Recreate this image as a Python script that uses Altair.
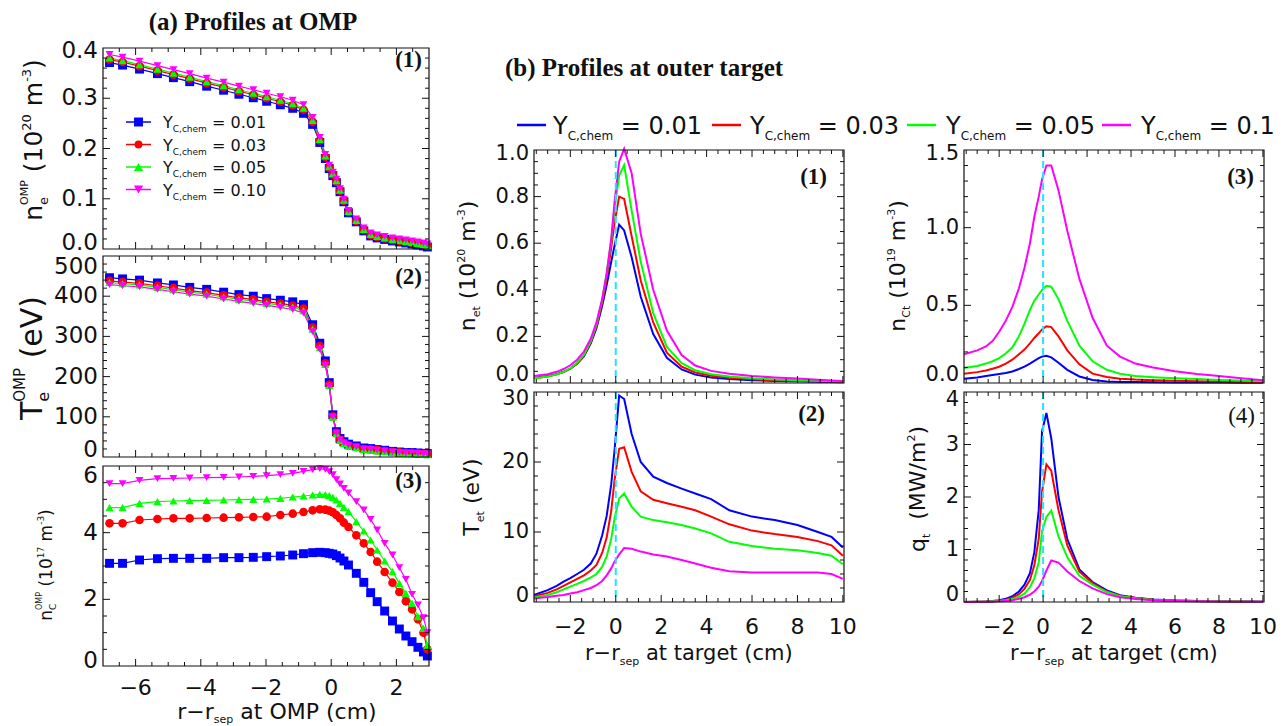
import altair as alt
import pandas as pd

SANS = "DejaVu Sans"
SERIF = "Liberation Serif"
INK = "#111111"
CYAN = "#22e4ff"

SERIES = ["0.01", "0.03", "0.05", "0.10"]
COLORS = ["#0000ff", "#ff0000", "#00ff00", "#ff00ff"]
SHAPES = ["square", "circle", "triangle-up", "triangle-down"]
SIZES = [80, 62, 85, 85]
LEGEND_A = ["= 0.01", "= 0.03", "= 0.05", "= 0.10"]
LEGEND_B = ["= 0.01", "= 0.03", "= 0.05", "= 0.1"]

# ---------------- (a) outboard midplane profiles ----------------
r_omp = [-6.8, -6.4, -5.88, -5.33, -4.84, -4.34, -3.82, -3.30, -2.83, -2.39,
         -1.98, -1.56, -1.18, -0.85, -0.57, -0.35, -0.18, -0.06, 0.05, 0.16,
         0.27, 0.39, 0.53, 0.77, 1.0, 1.21, 1.41, 1.64, 1.88, 2.09,
         2.29, 2.48, 2.66, 2.83, 2.95]

ne_omp_001 = [0.371, 0.366, 0.358, 0.349, 0.341, 0.333, 0.324, 0.316, 0.308, 0.301,
              0.294, 0.287, 0.280, 0.270, 0.248, 0.212, 0.180, 0.160, 0.146, 0.132,
              0.114, 0.094, 0.072, 0.054, 0.036, 0.026, 0.022, 0.019, 0.016, 0.014,
              0.012, 0.010, 0.008, 0.006, 0.004]
ne_omp_003 = [0.377, 0.372, 0.364, 0.355, 0.347, 0.339, 0.330, 0.322, 0.314, 0.307,
              0.300, 0.293, 0.286, 0.277, 0.253, 0.216, 0.183, 0.162, 0.148, 0.134,
              0.116, 0.096, 0.074, 0.056, 0.038, 0.028, 0.024, 0.021, 0.018, 0.016,
              0.014, 0.012, 0.010, 0.008, 0.006]
ne_omp_005 = [0.380, 0.375, 0.367, 0.358, 0.350, 0.342, 0.333, 0.325, 0.317, 0.310,
              0.303, 0.296, 0.289, 0.280, 0.256, 0.218, 0.185, 0.164, 0.150, 0.136,
              0.117, 0.097, 0.075, 0.057, 0.039, 0.029, 0.025, 0.022, 0.019, 0.017,
              0.015, 0.013, 0.011, 0.009, 0.007]
ne_omp_010 = [0.387, 0.382, 0.374, 0.365, 0.357, 0.349, 0.340, 0.332, 0.324, 0.317,
              0.310, 0.303, 0.296, 0.287, 0.262, 0.222, 0.188, 0.167, 0.153, 0.139,
              0.120, 0.099, 0.077, 0.060, 0.042, 0.032, 0.028, 0.025, 0.022, 0.020,
              0.018, 0.016, 0.014, 0.012, 0.010]

te_omp_001 = [446, 443, 440, 433, 428, 422, 417, 410, 404, 400,
              394, 390, 386, 379, 329, 283, 239, 185, 105, 63,
              46, 38, 32, 27.5, 22.5, 21, 18.5, 16.7, 14, 12.5,
              11, 11, 10, 9, 8.5]
te_omp_003 = [438, 435, 432, 426, 420, 414, 409, 402, 396, 392,
              386, 382, 377, 369, 322, 276, 233, 180, 101, 60,
              43, 35, 29, 25, 20, 19, 17, 15, 13, 11.5,
              10, 10, 9, 8, 7.5]
te_omp_005 = [434, 431, 428, 422, 416, 410, 405, 398, 392, 388,
              382, 378, 373, 364, 318, 272, 230, 178, 99, 58,
              41, 33, 27, 23, 18, 17, 15, 13, 11, 10,
              9, 8.5, 7.5, 6.5, 6]
te_omp_010 = [429, 426, 423, 417, 411, 405, 400, 393, 387, 382,
              377, 372, 367, 358, 312, 268, 228, 176, 100, 60,
              43, 35, 29, 25, 20, 19, 17, 15, 13, 11.5,
              10, 9.5, 9, 8, 7.5]

nc_omp_001 = [3.08, 3.08, 3.18, 3.22, 3.23, 3.23, 3.23, 3.25, 3.25, 3.26,
              3.28, 3.30, 3.33, 3.37, 3.40, 3.41, 3.40, 3.38, 3.36, 3.31,
              3.24, 3.15, 3.03, 2.78, 2.51, 2.20, 1.93, 1.65, 1.35, 1.11,
              0.90, 0.73, 0.56, 0.42, 0.30]
nc_omp_003 = [4.28, 4.28, 4.38, 4.41, 4.43, 4.43, 4.44, 4.45, 4.46, 4.47,
              4.48, 4.53, 4.57, 4.62, 4.67, 4.70, 4.69, 4.66, 4.61, 4.53,
              4.43, 4.30, 4.17, 3.92, 3.68, 3.42, 3.13, 2.82, 2.50, 2.22,
              1.94, 1.70, 1.40, 1.00, 0.50]
nc_omp_005 = [4.75, 4.75, 4.88, 4.93, 4.95, 4.96, 4.97, 4.98, 4.99, 5.00,
              5.01, 5.03, 5.07, 5.10, 5.13, 5.15, 5.14, 5.11, 5.06, 4.98,
              4.88, 4.76, 4.63, 4.33, 4.05, 3.78, 3.48, 3.15, 2.83, 2.48,
              2.18, 1.88, 1.48, 1.13, 0.62]
nc_omp_010 = [5.47, 5.47, 5.57, 5.62, 5.63, 5.64, 5.65, 5.66, 5.67, 5.69,
              5.71, 5.74, 5.78, 5.84, 5.89, 5.92, 5.90, 5.83, 5.74, 5.59,
              5.46, 5.33, 5.19, 4.93, 4.68, 4.40, 4.08, 3.68, 3.33, 2.95,
              2.60, 2.15, 1.83, 1.45, 1.00]

# ---------------- (b) outer target profiles ----------------
r_tgt = [-3.6, -3.0, -2.6, -2.3, -2.0, -1.7, -1.4, -1.1, -0.85, -0.6,
         -0.4, -0.2, -0.05, 0.15, 0.37, 0.7, 1.1, 1.65, 2.25, 2.9,
         3.5, 4.2, 5.0, 6.0, 7.0, 8.0, 8.9, 9.5, 10.0]

ne_tgt_001 = [0.022, 0.030, 0.038, 0.048, 0.062, 0.083, 0.115, 0.17, 0.235, 0.33,
              0.42, 0.52, 0.59, 0.68, 0.655, 0.54, 0.37, 0.21, 0.108, 0.058,
              0.036, 0.024, 0.017, 0.012, 0.009, 0.007, 0.005, 0.004, 0.003]
ne_tgt_003 = [0.020, 0.028, 0.037, 0.047, 0.062, 0.085, 0.118, 0.175, 0.245, 0.345,
              0.45, 0.58, 0.69, 0.80, 0.79, 0.63, 0.44, 0.26, 0.13, 0.07,
              0.045, 0.031, 0.022, 0.016, 0.012, 0.010, 0.008, 0.006, 0.005]
ne_tgt_005 = [0.020, 0.028, 0.037, 0.048, 0.063, 0.087, 0.121, 0.18, 0.25, 0.355,
              0.47, 0.61, 0.75, 0.89, 0.935, 0.74, 0.52, 0.30, 0.155, 0.085,
              0.055, 0.038, 0.028, 0.020, 0.015, 0.012, 0.010, 0.008, 0.007]
ne_tgt_010 = [0.030, 0.038, 0.048, 0.060, 0.076, 0.100, 0.135, 0.19, 0.26, 0.36,
              0.47, 0.62, 0.78, 0.95, 1.005, 0.90, 0.64, 0.40, 0.225, 0.12,
              0.075, 0.052, 0.040, 0.030, 0.024, 0.019, 0.014, 0.011, 0.009]

te_tgt_001 = [1.0, 1.7, 2.3, 2.9, 3.4, 4.0, 4.6, 5.5, 6.9, 9.5,
              12.3, 16.8, 21.8, 29.5, 29.0, 24.0, 20.0, 17.9, 17.0, 16.2,
              15.5, 14.7, 13.1, 12.2, 11.7, 11.0, 10.0, 9.3, 7.8]
te_tgt_003 = [0.8, 1.3, 1.8, 2.3, 2.8, 3.3, 3.8, 4.5, 5.3, 7.0,
              9.2, 13.0, 17.5, 21.9, 22.1, 18.6, 15.8, 14.6, 14.1, 13.6,
              13.1, 12.2, 11.1, 10.2, 9.7, 9.3, 8.7, 8.1, 6.6]
te_tgt_005 = [0.6, 1.0, 1.4, 1.8, 2.2, 2.6, 3.0, 3.5, 4.0, 5.0,
              6.5, 9.0, 12.0, 14.8, 15.5, 13.6, 12.2, 11.7, 11.4, 11.0,
              10.5, 9.8, 8.6, 8.0, 7.6, 7.4, 7.0, 6.6, 5.4]
te_tgt_010 = [0.5, 0.7, 0.9, 1.0, 1.2, 1.4, 1.7, 2.0, 2.4, 3.0,
              3.8, 4.8, 5.8, 6.8, 7.7, 7.6, 7.2, 6.8, 6.5, 6.0,
              5.5, 4.9, 4.4, 4.2, 4.2, 4.2, 4.2, 4.0, 3.3]

nc_tgt_001 = [0.028, 0.036, 0.045, 0.052, 0.058, 0.064, 0.074, 0.090, 0.105, 0.125,
              0.143, 0.160, 0.170, 0.175, 0.165, 0.130, 0.085, 0.042, 0.020, 0.010,
              0.007, 0.006, 0.005, 0.004, 0.003, 0.003, 0.002, 0.002, 0.002]
nc_tgt_003 = [0.060, 0.070, 0.080, 0.092, 0.105, 0.125, 0.150, 0.185, 0.215, 0.255,
              0.290, 0.320, 0.345, 0.365, 0.360, 0.300, 0.210, 0.120, 0.060, 0.038,
              0.028, 0.022, 0.018, 0.015, 0.012, 0.010, 0.008, 0.007, 0.006]
nc_tgt_005 = [0.097, 0.110, 0.125, 0.140, 0.160, 0.190, 0.230, 0.300, 0.380, 0.470,
              0.530, 0.570, 0.600, 0.625, 0.620, 0.540, 0.400, 0.240, 0.140, 0.085,
              0.060, 0.045, 0.037, 0.030, 0.025, 0.020, 0.016, 0.013, 0.011]
nc_tgt_010 = [0.185, 0.210, 0.235, 0.270, 0.330, 0.400, 0.490, 0.610, 0.740, 0.900,
              1.070, 1.200, 1.310, 1.400, 1.400, 1.240, 0.980, 0.670, 0.420, 0.240,
              0.170, 0.125, 0.100, 0.075, 0.058, 0.045, 0.032, 0.024, 0.018]

q_tgt_001 = [0.0, 0.005, 0.010, 0.020, 0.035, 0.06, 0.11, 0.20, 0.33, 0.55,
             0.95, 1.75, 3.25, 3.60, 3.12, 2.00, 1.20, 0.62, 0.38, 0.22,
             0.13, 0.08, 0.05, 0.03, 0.02, 0.015, 0.01, 0.008, 0.005]
q_tgt_003 = [0.0, 0.004, 0.008, 0.015, 0.025, 0.045, 0.08, 0.15, 0.25, 0.42,
             0.70, 1.20, 2.10, 2.62, 2.50, 1.75, 1.08, 0.58, 0.36, 0.20,
             0.12, 0.075, 0.045, 0.028, 0.018, 0.013, 0.009, 0.007, 0.005]
q_tgt_005 = [0.0, 0.003, 0.006, 0.012, 0.020, 0.035, 0.06, 0.10, 0.16, 0.28,
             0.45, 0.75, 1.35, 1.62, 1.74, 1.25, 0.85, 0.50, 0.33, 0.19,
             0.11, 0.07, 0.04, 0.025, 0.016, 0.012, 0.008, 0.006, 0.004]
q_tgt_010 = [0.0, 0.002, 0.004, 0.007, 0.012, 0.02, 0.035, 0.06, 0.09, 0.14,
             0.20, 0.29, 0.40, 0.60, 0.79, 0.75, 0.58, 0.40, 0.26, 0.15,
             0.09, 0.055, 0.035, 0.02, 0.013, 0.01, 0.007, 0.005, 0.004]

# ---------------- tick values ----------------
x_omp_major = [-6, -4, -2, 0, 2]
x_omp_minor = [v / 2 for v in range(-13, 6) if v % 4 != 0]
x_tgt_major = [-2, 0, 2, 4, 6, 8, 10]
x_tgt_minor = [v / 2 for v in range(-7, 20) if v % 4 != 0]

# panel boxes in pixels: left, right, top, bottom
P1 = (103, 429, 48, 249)
P2 = (103, 429, 256, 457)
P3 = (103, 429, 466, 666)
B1 = (534, 844, 150, 383)
B2 = (534, 844, 392, 602)
B3 = (964, 1264, 150, 383)
B4 = (964, 1264, 392, 602)

ONE = pd.DataFrame({"k": [0]})

# DejaVu Sans advance widths (em)
W = {" ": 0.318, "(": 0.390, ")": 0.390, ",": 0.318, "-": 0.361, ".": 0.318,
     "/": 0.337, "=": 0.838, "\u2212": 0.838, "C": 0.698, "M": 0.863, "O": 0.787,
     "P": 0.603, "T": 0.611, "V": 0.684, "W": 0.989, "Y": 0.611, "a": 0.613,
     "c": 0.550, "e": 0.615, "g": 0.635, "h": 0.634, "m": 0.974, "n": 0.634,
     "p": 0.635, "q": 0.635, "r": 0.411, "s": 0.521, "t": 0.392}
for d in "0123456789":
    W[d] = 0.636


def wid(t, size):
    return sum(W.get(c, 0.6) for c in t) * size


def rich(pieces, x, y, angle=0, anchor="middle"):
    """Text built from pieces (text, size, rise, advances)."""
    total = sum(wid(t, s) for t, s, r, a in pieces if a)
    pos = -total / 2 if anchor == "middle" else 0.0
    out = []
    for t, s, r, a in pieces:
        lead = len(t) - len(t.lstrip(" "))
        body = t.lstrip(" ")
        p = pos + lead * W[" "] * s
        if angle == 0:
            px, py = x + p, y - r
        else:
            px, py = x - r, y - p
        out.append(alt.Chart(ONE).mark_text(
            text=body, font=SANS, fontSize=s, angle=angle, align="left",
            baseline="alphabetic", color=INK).encode(x=alt.value(px), y=alt.value(py)))
        if a:
            pos += wid(t, s)
    return out


def table(x, columns):
    rows = []
    for name, col in zip(SERIES, columns):
        rows += [{"x": a, "y": b, "s": name} for a, b in zip(x, col)]
    return pd.DataFrame(rows)


COLOR = alt.Color("s:N", scale=alt.Scale(domain=SERIES, range=COLORS), legend=None)
SHAPE = alt.Shape("s:N", scale=alt.Scale(domain=SERIES, range=SHAPES), legend=None)
SIZE = alt.Size("s:O", scale=alt.Scale(domain=SERIES, range=SIZES), legend=None)


def panel(box, xdom, ydom, df, xmaj, xmin, ymaj, ymin, ylab, yfmt, ylab_x, ysize,
          ends=(-5, 5), xlab=None, xfmt="d", xlab_y=0, xsize=22, markers=False,
          lw=2.0, zero_line=False, tag=None, tag_bold=True):
    x0, x1, y0, y1 = box
    xs = alt.Scale(domain=xdom, range=[x0, x1], nice=False, zero=False)
    ys = alt.Scale(domain=ydom, range=[y1, y0], nice=False, zero=False)
    layers = [
        alt.Chart(df).mark_line(strokeWidth=lw).encode(
            x=alt.X("x:Q", scale=xs, axis=None),
            y=alt.Y("y:Q", scale=ys, axis=None), color=COLOR)
    ]
    if markers:
        layers.append(alt.Chart(df).mark_point(filled=True, opacity=1).encode(
            x=alt.X("x:Q", scale=xs, axis=None),
            y=alt.Y("y:Q", scale=ys, axis=None),
            color=COLOR, shape=SHAPE, size=SIZE))
    if zero_line:
        layers.append(alt.Chart(pd.DataFrame({"v": [0]})).mark_rule(
            color=CYAN, strokeWidth=2, strokeDash=[7, 4]).encode(
            x=alt.X("v:Q", scale=xs, axis=None), y=alt.value(y0), y2=alt.value(y1)))
    # inward ticks on all four sides
    for vals, n in ((xmaj, 7), (xmin, 4)):
        d = pd.DataFrame({"v": vals})
        ex = alt.X("v:Q", scale=xs, axis=None)
        layers.append(alt.Chart(d).mark_rule(color=INK, strokeWidth=1).encode(
            x=ex, y=alt.value(y1), y2=alt.value(y1 - n)))
        layers.append(alt.Chart(d).mark_rule(color=INK, strokeWidth=1).encode(
            x=ex, y=alt.value(y0), y2=alt.value(y0 + n)))
    for vals, n in ((ymaj, 7), (ymin, 4)):
        d = pd.DataFrame({"v": vals})
        ey = alt.Y("v:Q", scale=ys, axis=None)
        layers.append(alt.Chart(d).mark_rule(color=INK, strokeWidth=1).encode(
            y=ey, x=alt.value(x0), x2=alt.value(x0 + n)))
        layers.append(alt.Chart(d).mark_rule(color=INK, strokeWidth=1).encode(
            y=ey, x=alt.value(x1), x2=alt.value(x1 - n)))
    # y tick labels (end labels pulled inside the frame)
    for grp, dy in ((ylab[:1], ends[0]), (ylab[1:-1], 0), (ylab[-1:], ends[1])):
        layers.append(alt.Chart(pd.DataFrame({"v": grp})).mark_text(
            font=SANS, fontSize=ysize, align="right", baseline="middle",
            color=INK, dy=dy).encode(
            y=alt.Y("v:Q", scale=ys, axis=None), x=alt.value(ylab_x),
            text=alt.Text("v:Q", format=yfmt)))
    if xlab is not None:
        layers.append(alt.Chart(pd.DataFrame({"v": xlab})).mark_text(
            font=SANS, fontSize=xsize, align="center", baseline="alphabetic",
            color=INK).encode(
            x=alt.X("v:Q", scale=xs, axis=None), y=alt.value(xlab_y),
            text=alt.Text("v:Q", format=xfmt)))
    layers.append(alt.Chart(ONE).mark_rect(
        fill="transparent", stroke=INK, strokeWidth=1.2).encode(
        x=alt.value(x0), x2=alt.value(x1), y=alt.value(y0), y2=alt.value(y1)))
    if tag is not None:
        t, tx, ty = tag
        layers.append(alt.Chart(ONE).mark_text(
            text=t, font=SERIF, fontSize=23, fontWeight="bold" if tag_bold else "normal",
            align="right", baseline="alphabetic", color=INK).encode(
            x=alt.value(tx), y=alt.value(ty)))
    return alt.layer(*layers)


XDOM_A = [-7, 3]
XDOM_B = [-3.6, 10.05]

p1 = panel(P1, XDOM_A, [0, 0.4],
           table(r_omp, [ne_omp_001, ne_omp_003, ne_omp_005, ne_omp_010]),
           x_omp_major, x_omp_minor, [0.1, 0.2, 0.3],
           [v / 50 for v in range(1, 20) if v % 5 != 0],
           [0.0, 0.1, 0.2, 0.3, 0.4], ".1f", 98, 23, ends=(-6, 3),
           markers=True, lw=1.2, tag=("(1)", 422, 67))
p2 = panel(P2, XDOM_A, [0, 500],
           table(r_omp, [te_omp_001, te_omp_003, te_omp_005, te_omp_010]),
           x_omp_major, x_omp_minor, [100, 200, 300, 400],
           [v * 20 for v in range(1, 25) if v % 5 != 0],
           [0, 100, 200, 300, 400, 500], "d", 98, 23, ends=(-7, 11),
           markers=True, lw=1.2, tag=("(2)", 422, 284))
p3 = panel(P3, XDOM_A, [0, 6],
           table(r_omp, [nc_omp_001, nc_omp_003, nc_omp_005, nc_omp_010]),
           x_omp_major, x_omp_minor, [2, 4],
           [v / 2 for v in range(1, 12) if v % 4 != 0],
           [0, 2, 4, 6], "d", 98, 23, ends=(-5, 10),
           xlab=x_omp_major, xlab_y=695, xsize=22,
           markers=True, lw=1.2, tag=("(3)", 422, 488))

b1 = panel(B1, XDOM_B, [0, 1.0],
           table(r_tgt, [ne_tgt_001, ne_tgt_003, ne_tgt_005, ne_tgt_010]),
           x_tgt_major, x_tgt_minor, [0.2, 0.4, 0.6, 0.8],
           [v / 20 for v in range(1, 20) if v % 4 != 0],
           [0.0, 0.2, 0.4, 0.6, 0.8, 1.0], ".1f", 529, 21, ends=(-8, 4),
           zero_line=True, tag=("(1)", 827, 184))
b2 = panel(B2, XDOM_B, [0, 30],
           table(r_tgt, [te_tgt_001, te_tgt_003, te_tgt_005, te_tgt_010]),
           x_tgt_major, x_tgt_minor, [10, 20],
           [v * 2 for v in range(1, 15) if v % 5 != 0],
           [0, 10, 20, 30], "d", 529, 21, ends=(-6, 7),
           xlab=x_tgt_major, xlab_y=634, xsize=22,
           zero_line=True, tag=("(2)", 825, 421))
b3 = panel(B3, XDOM_B, [0, 1.5],
           table(r_tgt, [nc_tgt_001, nc_tgt_003, nc_tgt_005, nc_tgt_010]),
           x_tgt_major, x_tgt_minor, [0.5, 1.0],
           [v / 10 for v in range(1, 15) if v % 5 != 0],
           [0.0, 0.5, 1.0, 1.5], ".1f", 959, 21, ends=(-8, 4),
           zero_line=True, tag=("(3)", 1254, 184))
b4 = panel(B4, XDOM_B, [0, 4],
           table(r_tgt, [q_tgt_001, q_tgt_003, q_tgt_005, q_tgt_010]),
           x_tgt_major, x_tgt_minor, [1, 2, 3],
           [v / 5 for v in range(1, 20) if v % 5 != 0],
           [0, 1, 2, 3, 4], "d", 959, 21, ends=(-7, 8),
           xlab=x_tgt_major, xlab_y=634, xsize=22,
           zero_line=True, tag=("(4)", 1255, 423), tag_bold=False)

text_layers = []

# headings
text_layers.append(alt.Chart(ONE).mark_text(
    text="(a) Profiles at OMP", font=SERIF, fontSize=25, fontWeight="bold",
    align="center", baseline="alphabetic", color=INK).encode(
    x=alt.value(253), y=alt.value(30)))
text_layers.append(alt.Chart(ONE).mark_text(
    text="(b) Profiles at outer target", font=SERIF, fontSize=25, fontWeight="bold",
    align="left", baseline="alphabetic", color=INK).encode(
    x=alt.value(505), y=alt.value(76)))

# y-axis titles (rotated)
text_layers += rich([("n", 25, 0, True), ("e", 13, -6, False), ("OMP", 11, 14, True),
                     (" (10", 25, 0, True), ("20", 13, 11, True), (" m", 25, 0, True),
                     ("-3", 13, 11, True), (")", 25, 0, True)], 42, 140, angle=270)
text_layers += rich([("T", 30, 0, True), ("e", 16, -7, False), ("OMP", 15, 17, True),
                     (" (eV)", 30, 0, True)], 42, 358, angle=270)
text_layers += rich([("n", 17, 0, True), ("C", 9, -4, False), ("OMP", 8, 10, True),
                     (" (10", 17, 0, True), ("17", 9, 8, True), (" m", 17, 0, True),
                     ("-3", 9, 8, True), (")", 17, 0, True)], 52, 565, angle=270)
text_layers += rich([("n", 22, 0, True), ("et", 11, -5, True), (" (10", 22, 0, True),
                     ("20", 11, 10, True), (" m", 22, 0, True), ("-3", 11, 10, True),
                     (")", 22, 0, True)], 475, 266, angle=270)
text_layers += rich([("T", 22, 0, True), ("et", 11, -5, True), (" (eV)", 22, 0, True)],
                    479, 497, angle=270)
text_layers += rich([("n", 22, 0, True), ("Ct", 11, -5, True), (" (10", 22, 0, True),
                     ("19", 11, 10, True), (" m", 22, 0, True), ("-3", 11, 10, True),
                     (")", 22, 0, True)], 905, 266, angle=270)
text_layers += rich([("q", 22, 0, True), ("t", 11, -5, True), ("  (MW/m", 22, 0, True),
                     ("2", 11, 10, True), (")", 22, 0, True)], 925, 489, angle=270)

# x-axis titles
text_layers += rich([("r\u2212r", 22, 0, True), ("sep", 11, -4, True),
                     (" at OMP (cm)", 22, 0, True)], 277, 719)
text_layers += rich([("r\u2212r", 21, 0, True), ("sep", 11, -5, True),
                     (" at target (cm)", 21, 0, True)], 689, 660)
text_layers += rich([("r\u2212r", 21, 0, True), ("sep", 11, -5, True),
                     (" at target (cm)", 21, 0, True)], 1114, 660)

# legend inside panel (a)(1)
for i, (name, col, shp, lab) in enumerate(zip(SERIES, COLORS, SHAPES, LEGEND_A)):
    yy = 122 + 22.5 * i
    text_layers.append(alt.Chart(ONE).mark_rule(color=col, strokeWidth=1.5).encode(
        x=alt.value(126), x2=alt.value(151), y=alt.value(yy)))
    text_layers.append(alt.Chart(ONE).mark_point(
        shape=shp, filled=True, opacity=1, color=col, size=SIZES[i]).encode(
        x=alt.value(138.5), y=alt.value(yy)))
    text_layers += rich([("Y", 16, 0, True), ("C,chem", 9, -4, True), (" " + lab, 16, 0, True)],
                        163, yy + 6, anchor="start")

# legend above panels (b)
for col, lx, tx, lab in zip(COLORS, [517, 712, 907, 1102], [553, 750, 946, 1141], LEGEND_B):
    text_layers.append(alt.Chart(ONE).mark_rule(color=col, strokeWidth=2.5).encode(
        x=alt.value(lx), x2=alt.value(lx + 29), y=alt.value(125)))
    text_layers += rich([("Y", 24, 0, True), ("C,chem", 12, -6, True), (" " + lab, 24, 0, True)],
                        tx, 134, anchor="start")

chart = alt.layer(p1, p2, p3, b1, b2, b3, b4, *text_layers).resolve_scale(
    x="independent", y="independent"
).properties(
    width=1285, height=726, padding=0, background="white",
    autosize=alt.AutoSizeParams(type="none"),
).configure_view(strokeWidth=0)

chart.save("out.html", embed_options={"renderer": "svg", "actions": False})
